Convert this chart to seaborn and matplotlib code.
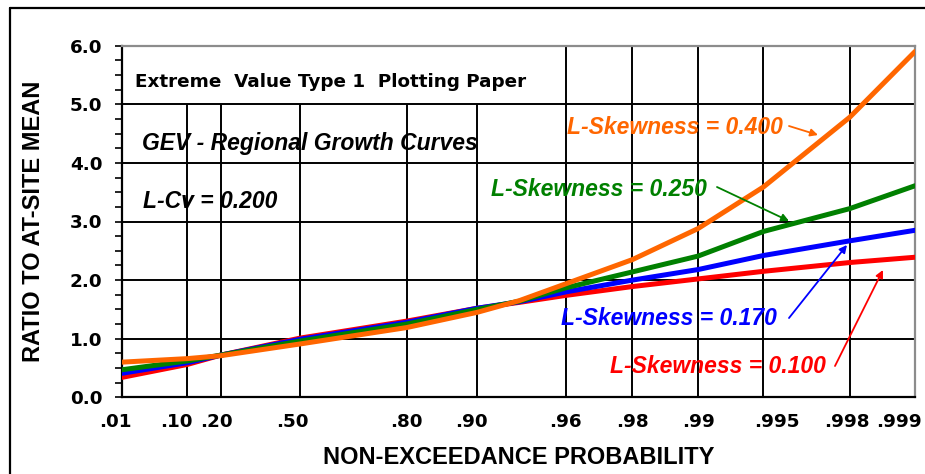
import numpy as np
import pandas as pd
import matplotlib
matplotlib.use("Agg")
import matplotlib.pyplot as plt
import matplotlib.transforms as mtransforms
from matplotlib.lines import Line2D
from matplotlib.ticker import MultipleLocator, NullLocator, FormatStrFormatter
import seaborn as sns

# Non-exceedance probabilities at which the growth curves are tabulated
prob = [0.01, 0.10, 0.20, 0.50, 0.80, 0.90, 0.935, 0.96, 0.98, 0.99, 0.995, 0.998, 0.999]

# GEV regional growth factors (ratio to at-site mean), L-Cv = 0.200
growth_t3_0100 = [0.34, 0.56, 0.72, 1.01, 1.30, 1.52, 1.62, 1.74, 1.89, 2.02, 2.15, 2.30, 2.39]
growth_t3_0170 = [0.41, 0.59, 0.72, 0.99, 1.28, 1.52, 1.63, 1.80, 2.00, 2.18, 2.42, 2.67, 2.85]
growth_t3_0250 = [0.47, 0.62, 0.72, 0.96, 1.25, 1.50, 1.64, 1.87, 2.14, 2.41, 2.83, 3.22, 3.61]
growth_t3_0400 = [0.60, 0.66, 0.71, 0.91, 1.19, 1.45, 1.65, 1.94, 2.35, 2.88, 3.59, 4.78, 5.90]

lskew_values = ["0.100", "0.170", "0.250", "0.400"]
curve_colors = ["#FF0000", "#0000FF", "#008000", "#FF6600"]

x_tick_probs = [0.01, 0.10, 0.20, 0.50, 0.80, 0.90, 0.96, 0.98, 0.99, 0.995, 0.998, 0.999]
x_tick_labels = [".01", ".10", ".20", ".50", ".80", ".90", ".96", ".98", ".99", ".995", ".998", ".999"]
# horizontal nudges of the probability labels, in pixels
x_label_nudge = [-7, -11, -4, -8, 0, -6, -1, 0, 0, 13, -3, -16]
y_ticks = [0, 1, 2, 3, 4, 5, 6]

frames = []
for t3, g in zip(lskew_values, [growth_t3_0100, growth_t3_0170, growth_t3_0250, growth_t3_0400]):
    frames.append(pd.DataFrame({"prob": prob, "ratio": g, "lskew": t3}))
df = pd.concat(frames, ignore_index=True)


def gumbel_forward(p):
    p = np.clip(np.asarray(p, dtype=float), 1e-9, 1 - 1e-12)
    return -np.log(-np.log(p))


def gumbel_inverse(u):
    u = np.asarray(u, dtype=float)
    return np.exp(-np.exp(-u))


sns.set_style("ticks")
plt.rcParams["font.family"] = ["DejaVu Sans"]
plt.rcParams.update({"text.color": "black", "axes.labelcolor": "black",
                     "xtick.color": "black", "ytick.color": "black"})

dpi = 100
fig = plt.figure(figsize=(925 / dpi, 474 / dpi), dpi=dpi)
ax = fig.add_axes([122 / 925, 1 - 397.3 / 474, 793 / 925, 351.6 / 474])

sns.lineplot(
    data=df, x="prob", y="ratio", hue="lskew", hue_order=lskew_values,
    palette=dict(zip(lskew_values, curve_colors)), linewidth=3.6,
    estimator=None, sort=False, legend=False, ax=ax, zorder=3,
)
for ln in ax.get_lines():
    ln.set_solid_joinstyle("round")

ax.set_xscale("function", functions=(gumbel_forward, gumbel_inverse))
ax.set_xlim(0.01, 0.999)
ax.set_ylim(0, 6)

# plotting-paper grid; the band under the heading stays clear left of .96
for y in y_ticks[1:-1]:
    ax.axhline(y, color="black", lw=1.4, zorder=1)
for p in x_tick_probs[1:-1]:
    ax.vlines(p, 0, 5 if p < 0.96 else 6, color="black", lw=1.4, zorder=1)

ax.set_xticks(x_tick_probs, x_tick_labels)
ax.xaxis.set_minor_locator(NullLocator())
ax.tick_params(axis="x", which="both", length=0, pad=11)
ax.set_yticks(y_ticks)
ax.yaxis.set_minor_locator(MultipleLocator(0.25))
ax.yaxis.set_major_formatter(FormatStrFormatter("%.1f"))
ax.tick_params(axis="y", which="both", direction="out", length=5, width=1.2,
               color="black", pad=9)
for lbl in ax.get_xticklabels() + ax.get_yticklabels():
    lbl.set_fontweight("bold")
    lbl.set_fontsize(13.2)
    lbl.set_color("black")
for lbl, dx in zip(ax.get_xticklabels(), x_label_nudge):
    lbl.set_transform(lbl.get_transform() + mtransforms.ScaledTranslation(dx / dpi, 0, fig.dpi_scale_trans))

for side in ["left", "bottom"]:
    ax.spines[side].set_color("black")
    ax.spines[side].set_linewidth(1.6)
for side in ["top", "right"]:
    ax.spines[side].set_color("#8c8c8c")
    ax.spines[side].set_linewidth(1.6)

arial = ["Liberation Sans", "DejaVu Sans"]
axis_font = dict(family=arial, fontsize=17, fontweight="bold", color="black")
ax.set_xlabel("NON-EXCEEDANCE PROBABILITY", **axis_font)
ax.set_ylabel("RATIO TO AT-SITE MEAN", **axis_font)
ax.xaxis.set_label_coords(0.5, -0.138)
ax.yaxis.set_label_coords(-0.097, 0.5)

ax.text(0.0164, 0.897, "Extreme  Value Type 1  Plotting Paper", transform=ax.transAxes,
        fontsize=13.2, fontweight="bold", ha="left", va="center", color="black")
ax.text(0.0252, 0.723, "GEV - Regional Growth Curves", transform=ax.transAxes, family=arial,
        fontsize=16.5, fontweight="bold", style="italic", ha="left", va="center", color="black")
ax.text(0.0265, 0.5555, "L-Cv = 0.200", transform=ax.transAxes, family=arial,
        fontsize=16.5, fontweight="bold", style="italic", ha="left", va="center", color="black")

# curve labels with pointers: (text, colour, text right/centre, arrow tail, arrow head)
labels = [
    ("L-Skewness = 0.400", "#FF6600", (0.8335, 0.766), (0.8411, 0.7716), (0.8777, 0.7460)),
    ("L-Skewness = 0.250", "#008000", (0.7377, 0.590), (0.7503, 0.5981), (0.8411, 0.5014)),
    ("L-Skewness = 0.170", "#0000FF", (0.8256, 0.2247), (0.8411, 0.2255), (0.9142, 0.4332)),
    ("L-Skewness = 0.100", "#FF0000", (0.8878, 0.087), (0.8991, 0.0890), (0.9596, 0.3621)),
]
for text, col, tpos, tail, head in labels:
    ax.text(tpos[0], tpos[1], text, transform=ax.transAxes, color=col, family=arial,
            fontsize=16.5, fontweight="bold", style="italic", ha="right", va="center", zorder=5)
    ax.annotate("", xy=head, xycoords="axes fraction", xytext=tail, textcoords="axes fraction",
                arrowprops=dict(arrowstyle="-|>", color=col, lw=1.3, mutation_scale=11,
                                shrinkA=0, shrinkB=0), zorder=5)

# outer frame of the sheet
fy = 1 - 7.5 / 474
fx = 9.5 / 925
fig.add_artist(Line2D([fx, fx], [0, fy], transform=fig.transFigure, color="black", lw=1.6))
fig.add_artist(Line2D([fx, 1], [fy, fy], transform=fig.transFigure, color="black", lw=1.6))

fig.savefig("out.png", dpi=dpi, facecolor="white")
